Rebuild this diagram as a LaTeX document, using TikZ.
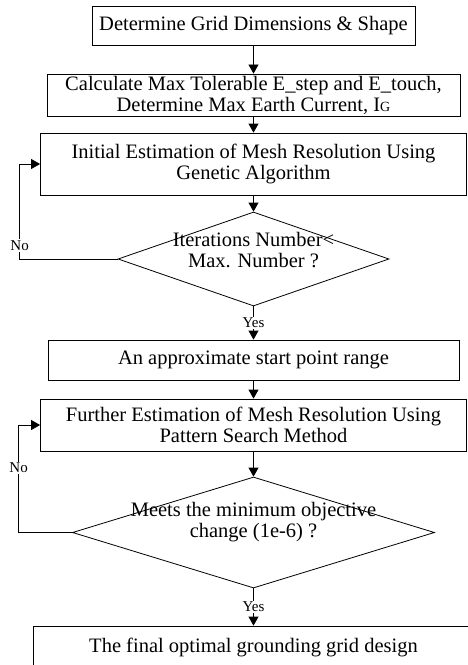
\documentclass[tikz,border=0pt]{standalone}
\usepackage{fontspec}
\setmainfont{Liberation Serif}
\usetikzlibrary{positioning,shapes.geometric,arrows.meta}

\begin{document}
\begin{tikzpicture}[x=1bp,y=1bp,on grid,line width=0.8bp,
        >={Triangle[length=9bp,width=10bp]},
        font=\fontsize{20.5bp}{21bp}\selectfont,
        box/.style={draw,fill=white,align=center,inner sep=0pt},
        decision/.style={diamond,draw,fill=white,inner sep=0pt},
        dtext/.style={align=center,inner sep=0pt},
        answer/.style={font=\fontsize{15bp}{15bp}\selectfont,fill=white,inner sep=1.5bp}]
      \useasboundingbox (0,0) rectangle (468,-665);
      \clip (0,0) rectangle (468,-665);
      %% main column
      \node[box,minimum width=323bp,minimum height=39bp] (dims) at (253.5,-25.5)
        {Determine Grid Dimensions \& Shape};
      \node[box,minimum width=413bp,minimum height=42bp] (limits) [below=69.5bp of dims]
        {Calculate Max Tolerable E\_step and E\_touch,\\
         Determine Max Earth Current, I{\fontsize{14bp}{14bp}\selectfont G}};
      \node[box,minimum width=426bp,minimum height=62bp] (ga) [below=69bp of limits]
        {Initial Estimation of Mesh Resolution Using\\Genetic Algorithm};
      \node[decision,minimum width=271bp,minimum height=94bp] (iter) [below=95bp of ga] {};
      \node[dtext] (iter_t) at ([yshift=9bp]iter.center) {Iterations Number<\\Max. Number ?};
      \node[box,minimum width=411bp,minimum height=40bp] (start) [below=101bp of iter]
        {An approximate start point range};
      \node[box,minimum width=426bp,minimum height=52bp] (ps) [below=65bp of start]
        {Further Estimation of Mesh Resolution Using\\Pattern Search Method};
      \node[decision,minimum width=362bp,minimum height=111bp] (conv) [below=107.5bp of ps] {};
      \node[dtext] (conv_t) at ([yshift=10bp]conv.center) {Meets the minimum objective\\change (1e-6) ?};
      \node[box,minimum width=440bp,minimum height=42bp] (final) [below=114.5bp of conv]
        {The final optimal grounding grid design};
      %% forward flow
      \path[->] (dims) edge (limits)
      (limits) edge (ga)
      (ga) edge (iter)
      (iter) edge node[answer] {Yes} (start)
      (start) edge (ps)
      (ps) edge (conv)
      (conv) edge node[answer] {Yes} (final);
      %% loops back
      \draw[->] (iter.west) -- ++(-98,0) |- node[answer,pos=0.07] {No} (ga.west);
      \draw[->] (conv.west) -- ++(-53.5,0) |- node[answer,pos=0.3] {No} (ps.west);
    \end{tikzpicture}
\end{document}
